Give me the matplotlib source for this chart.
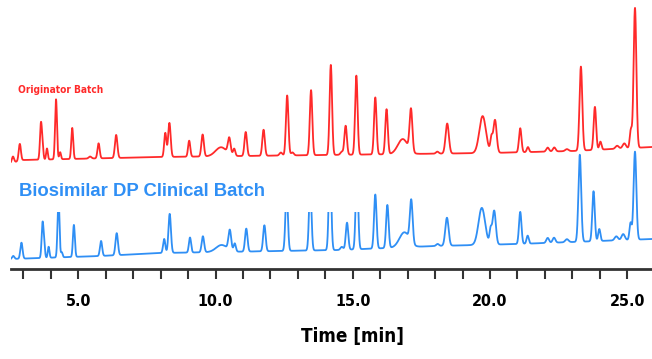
import numpy as np
import matplotlib
matplotlib.use('Agg')
from matplotlib import pyplot as plt
from matplotlib.patches import Rectangle

# DATA (time in min, heights in arbitrary detector units)
# peaks: retention time, height, width (sigma)
red_rt = [2.62, 2.87, 3.64, 3.70, 3.86, 4.19, 4.34, 4.78, 5.43, 5.74, 6.38,
          8.17, 8.32, 9.04, 9.53, 10.20, 10.50, 10.68, 11.10, 11.75, 12.38,
          12.61, 12.80, 13.48, 14.20, 14.60, 14.74, 15.13, 15.82, 16.23,
          16.82, 17.12, 18.08, 18.44, 19.73, 20.05, 20.18, 21.10, 21.38,
          22.10, 22.34, 22.80, 23.31, 23.82, 24.02, 24.63, 24.89, 25.13, 25.28]
red_h = [6, 17, 36, 12, 11, 60, 7, 31, 2, 15, 23,
         24, 34, 16, 22, 9, 16, 7, 24, 26, 3,
         60, 3, 65, 90, 3, 29, 79, 57, 45,
         15, 42, 2, 30, 37, 14, 33, 24, 5,
         4, 4, 2, 84, 43, 8, 3, 5, 18, 140]
red_w = [0.04, 0.04, 0.035, 0.03, 0.03, 0.035, 0.03, 0.035, 0.05, 0.04, 0.045,
         0.04, 0.045, 0.04, 0.045, 0.20, 0.05, 0.04, 0.045, 0.045, 0.05,
         0.045, 0.05, 0.045, 0.045, 0.05, 0.045, 0.045, 0.045, 0.045,
         0.18, 0.05, 0.05, 0.06, 0.12, 0.04, 0.06, 0.045, 0.04,
         0.05, 0.05, 0.06, 0.05, 0.045, 0.04, 0.06, 0.06, 0.04, 0.05]

blue_rt = [2.63, 2.93, 3.70, 3.76, 3.92, 4.28, 4.40, 4.84, 5.83, 6.40,
           8.13, 8.33, 9.07, 9.54, 10.22, 10.52, 10.70, 11.12, 11.78,
           12.59, 13.45, 14.17, 14.60, 14.79, 15.15, 15.82, 16.26, 16.88,
           17.13, 18.09, 18.43, 19.70, 20.02, 20.15, 21.10, 21.37, 22.10,
           22.33, 22.80, 23.27, 23.77, 23.98, 24.60, 24.85, 25.12, 25.28]
blue_h = [3, 16, 35, 10, 11, 60, 5, 32, 15, 22,
          14, 39, 15, 16, 7, 20, 8, 23, 26,
          60, 65, 90, 3, 27, 80, 54, 43, 15,
          42, 2, 28, 37, 14, 34, 32, 8, 5,
          5, 3, 87, 50, 12, 4, 6, 17, 88]
blue_w = [0.04, 0.04, 0.035, 0.03, 0.03, 0.035, 0.03, 0.035, 0.04, 0.045,
          0.04, 0.045, 0.04, 0.045, 0.20, 0.05, 0.04, 0.045, 0.045,
          0.045, 0.045, 0.045, 0.05, 0.045, 0.045, 0.045, 0.045, 0.18,
          0.05, 0.05, 0.06, 0.12, 0.04, 0.06, 0.045, 0.04, 0.05,
          0.05, 0.06, 0.05, 0.045, 0.04, 0.06, 0.06, 0.04, 0.05]

# baseline drift anchors
red_base_t = [2.55, 3.0, 8.0, 14.0, 20.0, 23.0, 25.9]
red_base_y = [106, 109, 112, 114, 116, 118, 122]
blue_base_t = [2.55, 5.8, 8.0, 14.5, 18.0, 21.0, 23.0, 25.9]
blue_base_y = [10, 13, 16, 19, 23, 25, 27, 30]

ticks = list(range(3, 26))
tick_labels = ['5.0' if t == 5 else '10.0' if t == 10 else '15.0' if t == 15
               else '20.0' if t == 20 else '25.0' if t == 25 else '' for t in ticks]

RED = '#ff2a2a'
BLUE = '#2f8ff5'


def trace(t, rt, h, w, bt, by):
    y = np.interp(t, bt, by)
    for r, hh, ww in zip(rt, h, w):
        y = y + hh * np.exp(-0.5 * ((t - r) / ww) ** 2)
    return y


t = np.linspace(2.55, 25.9, 6000)
y_red = trace(t, red_rt, red_h, red_w, red_base_t, red_base_y)
y_blue = trace(t, blue_rt, blue_h, blue_w, blue_base_t, blue_base_y)

fig = plt.figure(figsize=(6.52, 3.59), dpi=100)
ax = fig.add_axes([0.0169, 0.2507, 0.9831, 0.7493])
ax.set_xlim(2.55, 25.9)
ax.set_ylim(0, 269)

ax.plot(t, y_blue, color=BLUE, lw=1.3, zorder=2)
# white box behind the blue label clips the tall blue peaks
ax.add_patch(Rectangle((2.55, 57), 15.3 - 2.55, 55, facecolor='white',
                       edgecolor='none', zorder=3))
ax.plot(t, y_red, color=RED, lw=1.3, zorder=4)

ax.text(2.82, 176, 'Originator Batch', color=RED, fontsize=7.3,
        fontweight='bold', family='DejaVu Sans', stretch='condensed', zorder=5)
ax.text(2.85, 73, 'Biosimilar DP Clinical Batch', color=BLUE, fontsize=13.3,
        fontweight='bold', family='Liberation Sans', zorder=5)

for s in ['top', 'right', 'left']:
    ax.spines[s].set_visible(False)
ax.spines['bottom'].set_linewidth(2)
ax.spines['bottom'].set_color('#333333')
ax.set_yticks([])
ax.set_xticks(ticks)
ax.set_xticklabels(tick_labels, fontsize=11.5, fontweight='bold',
                   family='DejaVu Sans', stretch='condensed')
ax.tick_params(axis='x', length=7, width=1.5, color='#333333', pad=11)
ax.set_xlabel('Time [min]', fontsize=13.5, fontweight='bold',
              family='DejaVu Sans', stretch='condensed')
ax.xaxis.set_label_coords(0.533, -0.215)

fig.savefig('out.png', dpi=100)
